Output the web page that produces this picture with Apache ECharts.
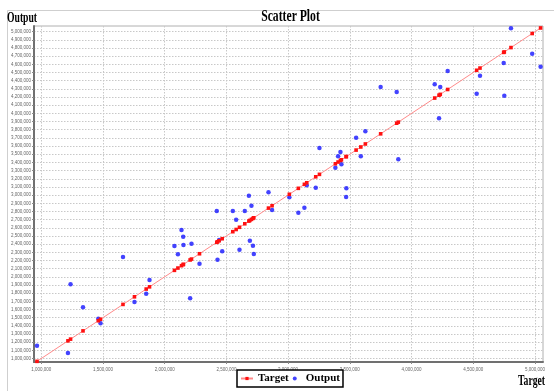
<!DOCTYPE html>
<html>
<head>
<meta charset="utf-8">
<script src="https://cdn.jsdelivr.net/npm/echarts@6/dist/echarts.min.js"></script>
<style>
  html, body { margin: 0; padding: 0; background: #fff; }
  #chart { width: 554px; height: 391px; }
</style>
</head>
<body>
<div id="chart"></div>
<script>
// target values (x) and the model output for each of them (y)
var targets = [
  965000, 1216000, 1237000, 1338000, 1462000, 1480000, 1662000, 1755000, 1850000, 1877000,
  2079000, 2107000, 2136000, 2150000, 2152000, 2206000, 2217000, 2282000, 2422000, 2428000,
  2441000, 2466000, 2552000, 2579000, 2606000, 2649000, 2682000, 2690000, 2703000, 2715000,
  2722000, 2841000, 2870000, 3010000, 3083000, 3132000, 3151000, 3224000, 3254000, 3383000,
  3405000, 3424000, 3432000, 3470000, 3472000, 3551000, 3589000, 3626000, 3750000, 3880000,
  3893000, 4188000, 4223000, 4233000, 4293000, 4528000, 4555000, 4747000, 4752000, 4806000,
  4978000, 5046000
];
var outputs = [
  1157000, 1067000, 1908000, 1627000, 1487000, 1431000, 2242000, 1692000, 1793000, 1961000,
  2377000, 2275000, 2573000, 2491000, 2389000, 1737000, 2405000, 2160000, 2805000, 2209000,
  2450000, 2312000, 2805000, 2699000, 2332000, 2805000, 2993000, 2442000, 2870000, 2381000,
  2279000, 3034000, 2818000, 2973000, 2785000, 2846000, 3120000, 3091000, 3577000, 3335000,
  3475000, 3528000, 3377000, 2977000, 3083000, 3703000, 3475000, 3781000, 4323000, 4262000,
  3438000, 4356000, 3940000, 4323000, 4519000, 4241000, 4461000, 4617000, 4217000, 5042000,
  4731000, 4572000
];
var xTicks = [1000000, 1500000, 2000000, 2500000, 3000000, 3500000, 4000000, 4500000, 5000000];
var yTicks = [];
for (var v = 1000000; v <= 5000000; v += 100000) yTicks.push(v);

var serif = '"Liberation Serif", "Times New Roman", serif';
var fmt = function (val) { return Number(val).toLocaleString('en-US'); };

var myChart = echarts.init(document.getElementById('chart'));
myChart.setOption({
  animation: false,
  grid: {
    left: 34, right: 11, top: 26, bottom: 29,
    show: true, borderColor: '#b0b0b0', borderWidth: 1
  },
  legend: {
    top: 370, left: 237,
    padding: [3, 3],
    itemWidth: 12, itemHeight: 4, itemGap: 4,
    borderColor: '#000', borderWidth: 1.5, backgroundColor: '#fff',
    textStyle: { fontFamily: serif, fontWeight: 'bold', fontSize: 11, color: '#000' },
    data: ['Target', 'Output']
  },
  xAxis: {
    type: 'value',
    min: 940800, max: 5065600,
    axisLine: { show: true, lineStyle: { color: '#707070', width: 2 } },
    axisTick: { show: true, length: 2, customValues: xTicks, lineStyle: { color: '#888' } },
    axisLabel: { customValues: xTicks, formatter: fmt, fontSize: 4.5, color: '#666', margin: 5 },
    splitLine: { show: true, lineStyle: { color: '#c8c8c8', type: [1.5, 1.5], width: 1 } }
  },
  yAxis: {
    type: 'value',
    min: 957000, max: 5070000,
    axisLine: { show: true, lineStyle: { color: '#707070', width: 2 } },
    axisTick: { show: true, length: 2, customValues: yTicks, lineStyle: { color: '#888' } },
    axisLabel: { customValues: yTicks, formatter: fmt, fontSize: 4.5, color: '#666', margin: 3 },
    splitLine: { show: true, lineStyle: { color: '#c8c8c8', type: [1.5, 1.5], width: 1 } }
  },
  graphic: [
    { type: 'polyline', shape: { points: [[7.5, 391], [7.5, 10.5], [554, 10.5]] },
      style: { stroke: '#cfcfcf', lineWidth: 1, fill: null }, silent: true },
    { type: 'text', x: 290.5, y: 17, scaleX: 0.73,
      style: { text: 'Scatter Plot', font: 'bold 16px ' + serif, fill: '#000', align: 'center', verticalAlign: 'middle' } },
    { type: 'text', x: 7, y: 18, scaleX: 0.69,
      style: { text: 'Output', font: 'bold 14px ' + serif, fill: '#000', align: 'left', verticalAlign: 'middle' } },
    { type: 'text', x: 545, y: 381, scaleX: 0.69,
      style: { text: 'Target', font: 'bold 14px ' + serif, fill: '#000', align: 'right', verticalAlign: 'middle' } }
  ],
  series: [
    {
      name: 'Output',
      type: 'scatter',
      symbol: 'circle',
      symbolSize: 4.5,
      itemStyle: { color: '#1414ff' },
      data: targets.map(function (t, i) { return [t, outputs[i]]; }),
      z: 2
    },
    {
      name: 'Target',
      type: 'line',
      symbol: 'rect',
      symbolSize: 3.6,
      showAllSymbol: true,
      itemStyle: { color: '#ff1010' },
      lineStyle: { color: '#ff8a8a', width: 1 },
      data: targets.map(function (t) { return [t, t]; }),
      z: 3
    }
  ]
});
</script>
</body>
</html>
